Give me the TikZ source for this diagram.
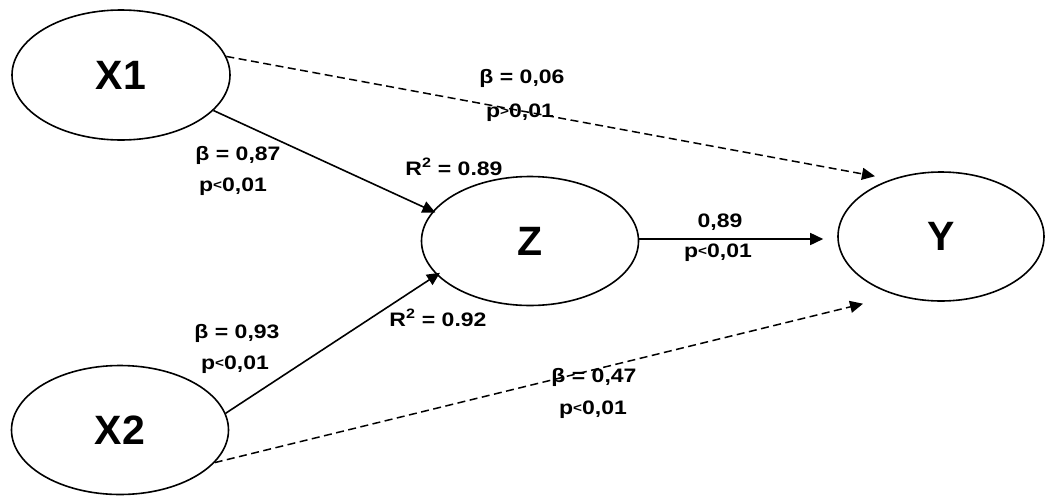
\documentclass[tikz,border=0pt]{standalone}
\usepackage{fontspec}
\setmainfont{Liberation Sans}
\newfontfamily\labfont{Liberation Sans}[FakeStretch=1.18]
\usetikzlibrary{shapes.geometric,arrows.meta}
\tikzset{
  latent/.style={ellipse, draw, line width=1.6pt, inner sep=0pt,
    font=\fontsize{41}{41}\selectfont\bfseries},
  lab/.style={font=\labfont\fontsize{19.5}{21}\selectfont\bfseries, inner sep=0pt, align=center},
  solidarrow/.style={line width=1.6pt, -{Triangle[length=13pt,width=12pt]}},
  dasharrow/.style={line width=1.5pt, dash pattern=on 8pt off 4.5pt, -{Triangle[length=13pt,width=12pt]}},
}
\newcommand{\lt}{{\fontsize{13}{13}\selectfont\raisebox{2pt}{<}}}
\newcommand{\gt}{{\fontsize{13}{13}\selectfont\raisebox{2pt}{>}}}
\begin{document}
\begin{tikzpicture}[x=1pt,y=-1pt]
\useasboundingbox (0,0) rectangle (1045,496);
% latent variables
\node[latent, minimum width=218pt, minimum height=130pt] (X1) at (121,75) {X1};
\node[latent, minimum width=217pt, minimum height=129pt] (X2) at (120,430) {X2};
\node[latent, minimum width=217pt, minimum height=129pt] (Z) at (530,241) {Z};
\node[latent, minimum width=206pt, minimum height=129pt] (Y) at (941,236.5) {Y};
% paths
\draw[solidarrow, shorten >=-3pt] (X1.-21.7) -- (Z.163);
\draw[solidarrow, shorten >=-4pt] (X2.9.5) -- (Z.-160.3);
\draw[solidarrow, shorten >=14pt] ([yshift=2pt]Z.east) -- ([yshift=2pt]Z.east -| Y.west);
\draw[dasharrow, shorten >=16.5pt] (X1.10) -- (Y.131.4);
\draw[dasharrow, shorten >=34.5pt] (X2.-19.2) -- (Y.-127.4);
% labels
\node[lab] (l1a) at (522,78) {β = 0,06};
\node[lab] (l1b) at (520,113) {p\gt0,01};
\node[lab] (r1) at (454,167) {R\textsuperscript{2} = 0.89};
\node[lab] (l2a) at (238,155) {β = 0,87};
\node[lab] (l2b) at (233,187) {p\lt0,01};
\node[lab] (r2) at (438,318) {R\textsuperscript{2} = 0.92};
\node[lab] (l3a) at (237,333) {β = 0,93};
\node[lab] (l3b) at (235,365) {p\lt0,01};
\node[lab] (l4a) at (594,377) {β = 0,47};
\node[lab] (l4b) at (593,410) {p\lt0,01};
\node[lab] (l5a) at (720,222) {0,89};
\node[lab] (l5b) at (718,253) {p\lt0,01};
\end{tikzpicture}
\end{document}
